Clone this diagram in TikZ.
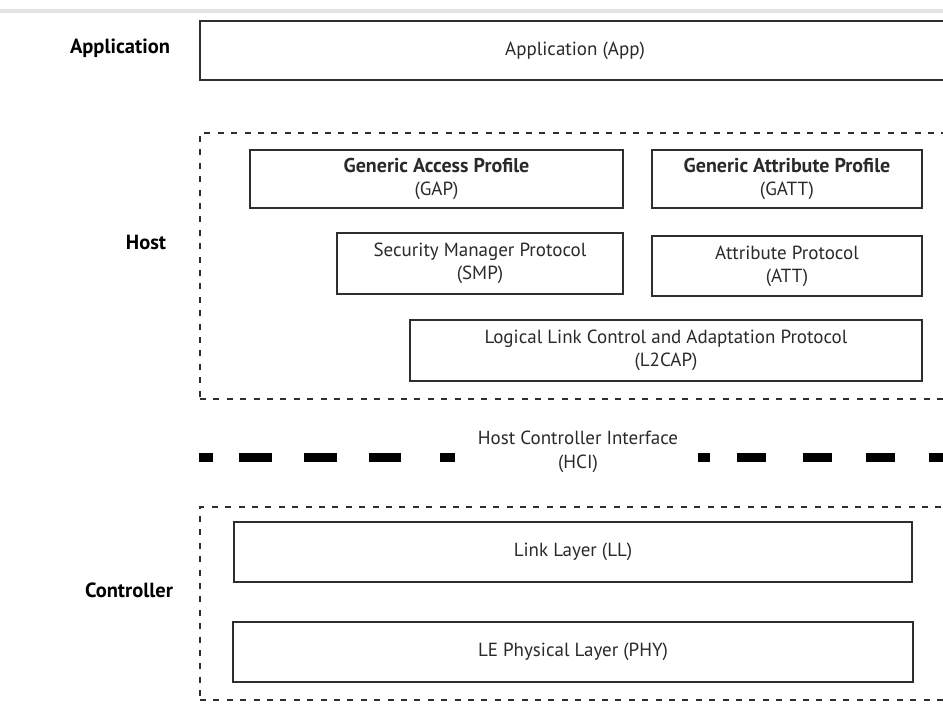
\documentclass[tikz,border=0pt]{standalone}
\usepackage{fontspec}
\setmainfont{PT Sans}
\definecolor{boxgray}{HTML}{2E2E2E}
\definecolor{textgray}{HTML}{2A2A2A}
\definecolor{rulegray}{HTML}{E4E4E4}
\newcommand{\boxtitle}[1]{{\fontsize{20}{23}\selectfont\bfseries #1}}
\begin{document}
\begin{tikzpicture}[x=1pt,y=-1pt,
  layerbox/.style={draw=boxgray, line width=2.6pt, fill=white, inner sep=0pt,
    align=center, text=textgray, font=\fontsize{19}{23}\selectfont},
  groupbox/.style={draw=boxgray, line width=2.6pt, dash pattern=on 6pt off 7.4pt,
    inner sep=0pt},
  sidelabel/.style={font=\fontsize{20.5}{22}\selectfont\bfseries, text=black},
  hciline/.style={draw=black, line width=9pt}
]
\clip (0,0) rectangle (943,704);
\fill[white] (0,0) rectangle (943,704);
\draw[rulegray, line width=4pt] (0,11) -- (943,11);

% side labels
\node[sidelabel] (lapp) at (120,48) {Application};
\node[sidelabel] (lhost) at (146,242) {Host};
\node[sidelabel] (lctrl) at (129,590) {Controller};

% application layer
\node[layerbox, minimum width=750pt, minimum height=59pt] (app) at (575,50.5) {Application (App)};

% host group
\node[groupbox, minimum width=770pt, minimum height=266pt] (host) at (585,266) {};
\node[layerbox, minimum width=373pt, minimum height=58pt] (gap) at (436.5,179)
  {\boxtitle{Generic Access Profile}\\(GAP)};
\node[layerbox, minimum width=270pt, minimum height=58pt] (gatt) at (787,179)
  {\boxtitle{Generic Attribute Profile}\\(GATT)};
\node[layerbox, minimum width=286pt, minimum height=61pt] (smp) at (480,263.5)
  {Security Manager Protocol\\(SMP)};
\node[layerbox, minimum width=270pt, minimum height=60pt] (att) at (787,266)
  {Attribute Protocol\\(ATT)};
\node[layerbox, minimum width=512pt, minimum height=61pt] (l2cap) at (666,350.5)
  {Logical Link Control and Adaptation Protocol\\(L2CAP)};

% host controller interface
\node[align=center, text=textgray, font=\fontsize{19}{24}\selectfont] (hci) at (578,452)
  {Host Controller Interface\\(HCI)};
\coordinate (hcila) at (199,457);
\coordinate (hcilb) at (455,457);
\coordinate (hcira) at (698,457);
\coordinate (hcirb) at (943,457);
\draw[hciline, dash pattern=on 14pt off 26pt on 33pt off 32pt on 33pt off 32pt on 32pt off 39pt on 20pt] (hcila) -- (hcilb);
\draw[hciline, dash pattern=on 12pt off 27pt on 29pt off 37pt on 29pt off 34pt on 29pt off 34pt on 20pt] (hcira) -- (hcirb);

% controller group
\node[groupbox, minimum width=770pt, minimum height=193pt] (ctrl) at (585,603.5) {};
\node[layerbox, minimum width=678pt, minimum height=60pt] (ll) at (573,552) {Link Layer (LL)};
\node[layerbox, minimum width=680pt, minimum height=60pt] (phy) at (573,652) {LE Physical Layer (PHY)};
\end{tikzpicture}
\end{document}
